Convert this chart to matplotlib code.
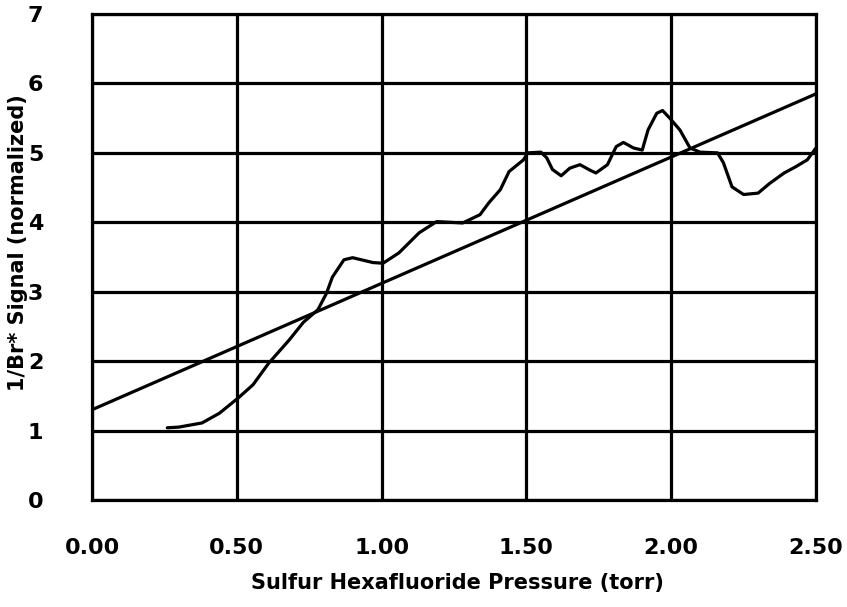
import matplotlib
matplotlib.use("Agg")
import matplotlib.pyplot as plt
import numpy as np

# Measured signal curve
pressure = [0.26, 0.30, 0.38, 0.44, 0.505, 0.556, 0.61, 0.68, 0.73, 0.78, 0.81, 0.83, 0.87, 0.90,
            0.97, 1.005, 1.06, 1.13, 1.19, 1.28, 1.34, 1.37, 1.41, 1.44, 1.49, 1.505, 1.55, 1.57,
            1.59, 1.62, 1.65, 1.685, 1.72, 1.74, 1.78, 1.81, 1.835, 1.87, 1.90, 1.92, 1.95, 1.97,
            1.995, 2.03, 2.065, 2.10, 2.16, 2.18, 2.21, 2.25, 2.30, 2.34, 2.39, 2.43, 2.47, 2.50]
signal = [1.04, 1.05, 1.11, 1.25, 1.47, 1.66, 1.97, 2.30, 2.56, 2.74, 2.98, 3.21, 3.46, 3.49,
          3.42, 3.41, 3.56, 3.85, 4.01, 3.99, 4.11, 4.28, 4.47, 4.73, 4.90, 5.00, 5.01, 4.93,
          4.76, 4.67, 4.78, 4.83, 4.75, 4.71, 4.83, 5.09, 5.15, 5.07, 5.04, 5.33, 5.57, 5.61,
          5.50, 5.33, 5.07, 5.01, 5.00, 4.86, 4.51, 4.40, 4.42, 4.56, 4.71, 4.80, 4.90, 5.07]

# Linear fit line endpoints
fit_x = [0.0, 2.5]
fit_y = [1.30, 5.85]

x_ticks = [0.0, 0.5, 1.0, 1.5, 2.0, 2.5]
x_tick_labels = ["0.00", "0.50", "1.00", "1.50", "2.00", "2.50"]
y_ticks = [0, 1, 2, 3, 4, 5, 6, 7]
y_tick_labels = ["0", "1", "2", "3", "4", "5", "6", "7"]

plt.rcParams['font.family'] = ['DejaVu Sans']

fig = plt.figure(figsize=(8.47, 6.07), dpi=100)
ax = fig.add_axes([92/847, 107/607, (816-92)/847, (500-14)/607])

lw = 2.3
ax.plot(pressure, signal, color='black', lw=lw, solid_capstyle='round',
        solid_joinstyle='round', zorder=3)
ax.plot(fit_x, fit_y, color='black', lw=lw, zorder=3)

ax.set_xlim(0, 2.5)
ax.set_ylim(0, 7)
ax.set_xticks(x_ticks)
ax.set_xticklabels(x_tick_labels)
ax.set_yticks(y_ticks)
ax.set_yticklabels(y_tick_labels)
ax.grid(True, color='black', lw=lw)
ax.tick_params(length=0, labelsize=16)
for lab in ax.get_xticklabels() + ax.get_yticklabels():
    lab.set_fontweight('bold')
ax.tick_params(axis='x', pad=27)
ax.tick_params(axis='y', pad=35)
for s in ax.spines.values():
    s.set_linewidth(lw)
    s.set_color('black')

ax.set_xlabel("Sulfur Hexafluoride Pressure (torr)", fontsize=15, fontweight='bold')
ax.set_ylabel("1/Br* Signal (normalized)", fontsize=15, fontweight='bold')
ax.xaxis.set_label_coords(0.505, -0.171)
ax.xaxis.label.set_va('center')
ax.yaxis.set_label_coords(-0.102, 0.529)
ax.yaxis.label.set_va('center')

fig.savefig("out.png", dpi=100)
